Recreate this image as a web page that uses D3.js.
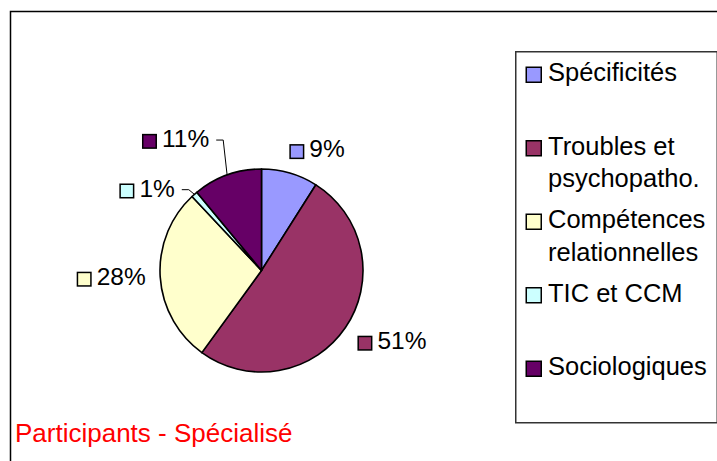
<!DOCTYPE html>
<html>
<head>
<meta charset="utf-8">
<script src="https://cdn.jsdelivr.net/npm/d3@7"></script>
<style>
  body { margin: 0; background: #fff; }
  text { font-family: "Liberation Sans", Arial, sans-serif; }
</style>
</head>
<body>
<script>
// ---- data ----
const categories = ["Spécificités", "Troubles et psychopatho.", "Compétences relationnelles", "TIC et CCM", "Sociologiques"];
const legendLines = [["Spécificités"], ["Troubles et", "psychopatho."], ["Compétences", "relationnelles"], ["TIC et CCM"], ["Sociologiques"]];
const values = [9, 51, 28, 1, 11];
const colors = ["#9999FF", "#993366", "#FFFFCC", "#CCFFFF", "#660066"];
const title = "Participants - Spécialisé";
// manual label displacement (labels dragged away from default, with leader lines)
const labelNudge = [[0, 0], [0, 0], [0, 0], [-10, 15], [-13, -12.5]];

// ---- layout ----
const W = 717, H = 461;
const cx = 261.5, cy = 270.5, r = 101.5, labelR = 116;

const svg = d3.select("body").append("svg").attr("width", W).attr("height", H);
svg.append("rect").attr("width", W).attr("height", H).attr("fill", "#fff");

// outer chart frame (extends past the window on right/bottom)
svg.append("rect")
  .attr("x", 10.5).attr("y", 11.5).attr("width", 900).attr("height", 700)
  .attr("fill", "none").attr("stroke", "#000").attr("stroke-width", 1.5);

const total = d3.sum(values);
const pie = d3.pie().sort(null).value(d => d);
const arcs = pie(values);
const arc = d3.arc().innerRadius(0).outerRadius(r);

const g = svg.append("g").attr("transform", `translate(${cx},${cy})`);
g.selectAll("path.slice").data(arcs).join("path")
  .attr("class", "slice")
  .attr("d", arc)
  .attr("fill", (d, i) => colors[i])
  .attr("stroke", "#000")
  .attr("stroke-width", 1.6)
  .attr("stroke-linejoin", "round");

// data labels
const clamp = v => Math.max(-1, Math.min(1, v));
const sq = 15, gap = 20, boxH = 15;
arcs.forEach((d, i) => {
  const mid = (d.startAngle + d.endAngle) / 2;
  const s = Math.sin(mid), c = Math.cos(mid);
  const px = labelR * s, py = -labelR * c;
  const lg = g.append("g");
  const t = lg.append("text")
    .attr("font-size", "24.5px")
    .attr("fill", "#000")
    .text(Math.round(d.value / total * 100) + "%");
  const tw = t.node().getComputedTextLength();
  const boxW = gap + tw;
  const fh = clamp(s * 3), fv = clamp(c * 3);
  const bcx = px + fh * boxW / 2 + labelNudge[i][0];
  const bcy = py - fv * boxH / 2 + labelNudge[i][1];
  const left = bcx - boxW / 2, top = bcy - boxH / 2;
  lg.insert("rect", "text")
    .attr("x", left + 0.75).attr("y", top + 0.75)
    .attr("width", sq - 1.5).attr("height", sq - 1.5)
    .attr("fill", colors[i]).attr("stroke", "#000").attr("stroke-width", 1.5);
  t.attr("x", left + gap).attr("y", top + boxH - 1.7);
  if (labelNudge[i][0] !== 0 || labelNudge[i][1] !== 0) {
    const right = left + boxW;
    const ly = bcy - 1.3;
    const ex = r * s, ey = -r * c;
    g.append("path")
      .attr("d", `M${right + 7},${ly}H${right + 14}L${ex},${ey}`)
      .attr("fill", "none").attr("stroke", "#000").attr("stroke-width", 1);
  }
});

// legend
svg.append("rect")
  .attr("x", 515.75).attr("y", 51.75).attr("width", 201.5).attr("height", 371)
  .attr("fill", "#fff").attr("stroke", "#333").attr("stroke-width", 1.5);

const legendY = d3.scalePoint().domain(d3.range(categories.length)).range([81, 375]);
categories.forEach((cat, i) => {
  const b = legendY(i);
  svg.append("rect")
    .attr("x", 526.25).attr("y", b - 13.75).attr("width", 15).attr("height", 15)
    .attr("fill", colors[i]).attr("stroke", "#000").attr("stroke-width", 1.5);
  const t = svg.append("text")
    .attr("x", 548).attr("y", b)
    .attr("font-size", "25.5px").attr("fill", "#000");
  legendLines[i].forEach((line, j) => {
    t.append("tspan").attr("x", 548).attr("dy", j === 0 ? 0 : 32.5).text(line);
  });
});

// title
svg.append("text")
  .attr("x", 15).attr("y", 442)
  .attr("font-size", "26px").attr("fill", "#FF0000")
  .text(title);
</script>
</body>
</html>
